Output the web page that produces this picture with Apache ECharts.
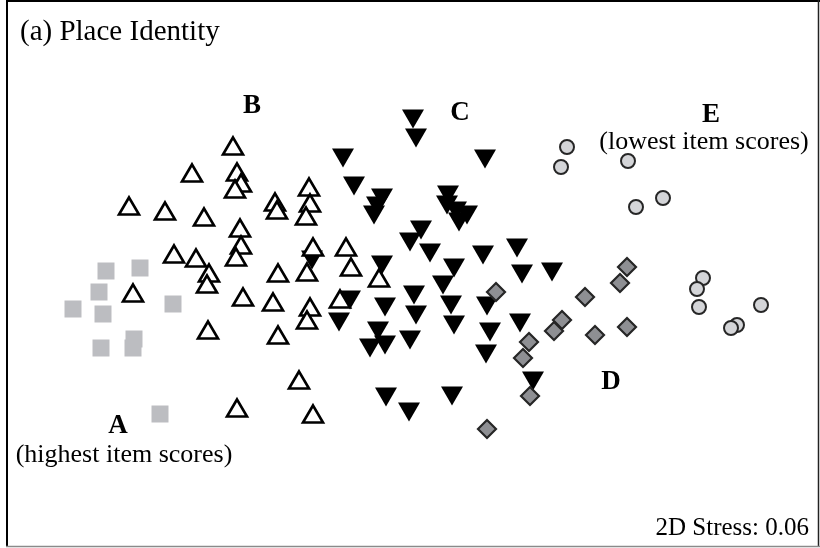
<!DOCTYPE html>
<html>
<head>
<meta charset="utf-8">
<title>(a) Place Identity – nMDS ordination</title>
<script src="https://cdn.jsdelivr.net/npm/echarts@6/dist/echarts.min.js"></script>
<style>
  html, body { margin: 0; padding: 0; background: #fff; }
  #chart { width: 820px; height: 548px; }
</style>
</head>
<body>
<div id="chart"></div>
<script>
// nMDS ordination coordinates (dimension 1, dimension 2) for each group.
const groupA = [ // highest item scores
  [-3.04, 0.03], [-2.70, 0.06], [-3.11, -0.18], [-3.37, -0.35], [-3.07, -0.40],
  [-2.37, -0.30], [-3.09, -0.74], [-2.76, -0.65], [-2.77, -0.74], [-2.50, -1.40]
];
const groupB = [
  [-1.77, 1.28], [-2.18, 1.01], [-1.73, 1.02], [-1.69, 0.91], [-1.75, 0.85],
  [-2.81, 0.68], [-2.45, 0.63], [-2.06, 0.57], [-1.35, 0.72], [-1.33, 0.64],
  [-1.01, 0.87], [-1.00, 0.71], [-1.04, 0.58], [-1.70, 0.46], [-1.69, 0.29],
  [-1.74, 0.17], [-2.36, 0.20], [-2.14, 0.16], [-2.01, 0.01], [-2.03, -0.10],
  [-0.97, 0.27], [-0.64, 0.27], [-0.59, 0.07], [-1.03, 0.02], [-1.32, 0.01],
  [-2.77, -0.19], [-1.67, -0.23], [-1.37, -0.28], [-1.00, -0.33], [-1.03, -0.46],
  [-0.70, -0.25], [-0.31, -0.04], [-2.02, -0.56], [-1.32, -0.61], [-1.11, -1.06],
  [-1.73, -1.34], [-0.97, -1.40]
];
const groupC = [
  [0.03, 1.55], [0.06, 1.36], [-0.67, 1.16], [0.75, 1.15], [-0.56, 0.88],
  [-0.28, 0.76], [-0.33, 0.68], [-0.36, 0.59], [0.38, 0.79], [0.37, 0.69],
  [0.46, 0.63], [0.57, 0.59], [0.49, 0.52], [0.11, 0.44], [0.00, 0.32],
  [0.20, 0.21], [0.73, 0.19], [1.07, 0.26], [-0.98, 0.14], [-0.28, 0.09],
  [0.44, 0.06], [0.33, -0.11], [1.12, 0.00], [1.42, 0.02], [-0.60, -0.26],
  [0.04, -0.21], [0.06, -0.41], [-0.25, -0.33], [0.41, -0.31], [0.77, -0.32],
  [-0.71, -0.48], [-0.32, -0.57], [-0.40, -0.74], [-0.25, -0.71], [0.00, -0.66],
  [0.44, -0.51], [0.80, -0.58], [0.76, -0.80], [1.10, -0.49], [1.23, -1.07],
  [-0.24, -1.23], [-0.01, -1.38], [0.42, -1.22]
];
const groupD = [
  [0.86, -0.18], [2.17, 0.07], [2.10, -0.09], [1.75, -0.23], [1.52, -0.46],
  [1.44, -0.57], [1.85, -0.61], [2.17, -0.53], [1.19, -0.68], [1.13, -0.84],
  [1.20, -1.22], [0.77, -1.55]
];
const groupE = [ // lowest item scores
  [1.57, 1.27], [1.51, 1.07], [2.18, 1.13], [2.53, 0.76], [2.26, 0.67],
  [2.93, -0.04], [2.87, -0.15], [2.89, -0.33], [3.51, -0.31], [3.27, -0.51],
  [3.21, -0.54]
];

const serif = '"Liberation Serif", "Times New Roman", serif';

const chart = echarts.init(document.getElementById('chart'), null, { renderer: 'canvas' });

chart.setOption({
  animation: false,
  backgroundColor: '#ffffff',
  grid: { left: 0, right: 0, top: 0, bottom: 0 },
  xAxis: { type: 'value', min: -4.1, max: 4.1, show: false },
  yAxis: { type: 'value', min: -2.74, max: 2.74, show: false },
  series: [
    {
      name: 'A', type: 'scatter', data: groupA,
      symbol: 'rect', symbolSize: 17,
      itemStyle: { color: '#bcbdc1', opacity: 1 }
    },
    {
      name: 'C', type: 'scatter', data: groupC,
      symbol: 'triangle', symbolRotate: 180, symbolSize: [22, 19],
      itemStyle: { color: '#000000', opacity: 1 }
    },
    {
      name: 'B', type: 'scatter', data: groupB,
      symbol: 'triangle', symbolSize: [20, 17],
      itemStyle: { color: '#ffffff', borderColor: '#000000', borderWidth: 2.6, opacity: 1 }
    },
    {
      name: 'D', type: 'scatter', data: groupD,
      symbol: 'diamond', symbolSize: [18, 18],
      itemStyle: { color: '#8e8f93', borderColor: '#262626', borderWidth: 2.2, opacity: 1 }
    },
    {
      name: 'E', type: 'scatter', data: groupE,
      symbol: 'circle', symbolSize: 14,
      itemStyle: { color: '#d4d5d8', borderColor: '#262626', borderWidth: 2, opacity: 1 }
    }
  ],
  graphic: [
    // frame
    { type: 'line', shape: { x1: 7, y1: 0, x2: 7, y2: 547 }, style: { stroke: '#000', lineWidth: 2 } },
    { type: 'line', shape: { x1: 6, y1: 1, x2: 820, y2: 1 }, style: { stroke: '#000', lineWidth: 2 } },
    { type: 'line', shape: { x1: 818.5, y1: 0, x2: 818.5, y2: 547 }, style: { stroke: '#222', lineWidth: 1.5 } },
    { type: 'line', shape: { x1: 6, y1: 546.5, x2: 820, y2: 546.5 }, style: { stroke: '#8a8a8a', lineWidth: 1.5 } },
    // panel title
    { type: 'text', x: 20, y: 32, style: { text: '(a) Place Identity', font: '29px ' + serif, fill: '#000', textAlign: 'left', textVerticalAlign: 'middle' } },
    // group letters
    { type: 'text', x: 252, y: 106, style: { text: 'B', font: 'bold 27px ' + serif, fill: '#000', textAlign: 'center', textVerticalAlign: 'middle' } },
    { type: 'text', x: 460, y: 113, style: { text: 'C', font: 'bold 27px ' + serif, fill: '#000', textAlign: 'center', textVerticalAlign: 'middle' } },
    { type: 'text', x: 711, y: 115, style: { text: 'E', font: 'bold 27px ' + serif, fill: '#000', textAlign: 'center', textVerticalAlign: 'middle' } },
    { type: 'text', x: 704, y: 142, style: { text: '(lowest item scores)', font: '26px ' + serif, fill: '#000', textAlign: 'center', textVerticalAlign: 'middle' } },
    { type: 'text', x: 611, y: 382, style: { text: 'D', font: 'bold 27px ' + serif, fill: '#000', textAlign: 'center', textVerticalAlign: 'middle' } },
    { type: 'text', x: 118, y: 426, style: { text: 'A', font: 'bold 27px ' + serif, fill: '#000', textAlign: 'center', textVerticalAlign: 'middle' } },
    { type: 'text', x: 124, y: 455, style: { text: '(highest item scores)', font: '26px ' + serif, fill: '#000', textAlign: 'center', textVerticalAlign: 'middle' } },
    // stress value
    { type: 'text', x: 809, y: 528, style: { text: '2D Stress: 0.06', font: '25px ' + serif, fill: '#000', textAlign: 'right', textVerticalAlign: 'middle' } }
  ]
});
</script>
</body>
</html>
